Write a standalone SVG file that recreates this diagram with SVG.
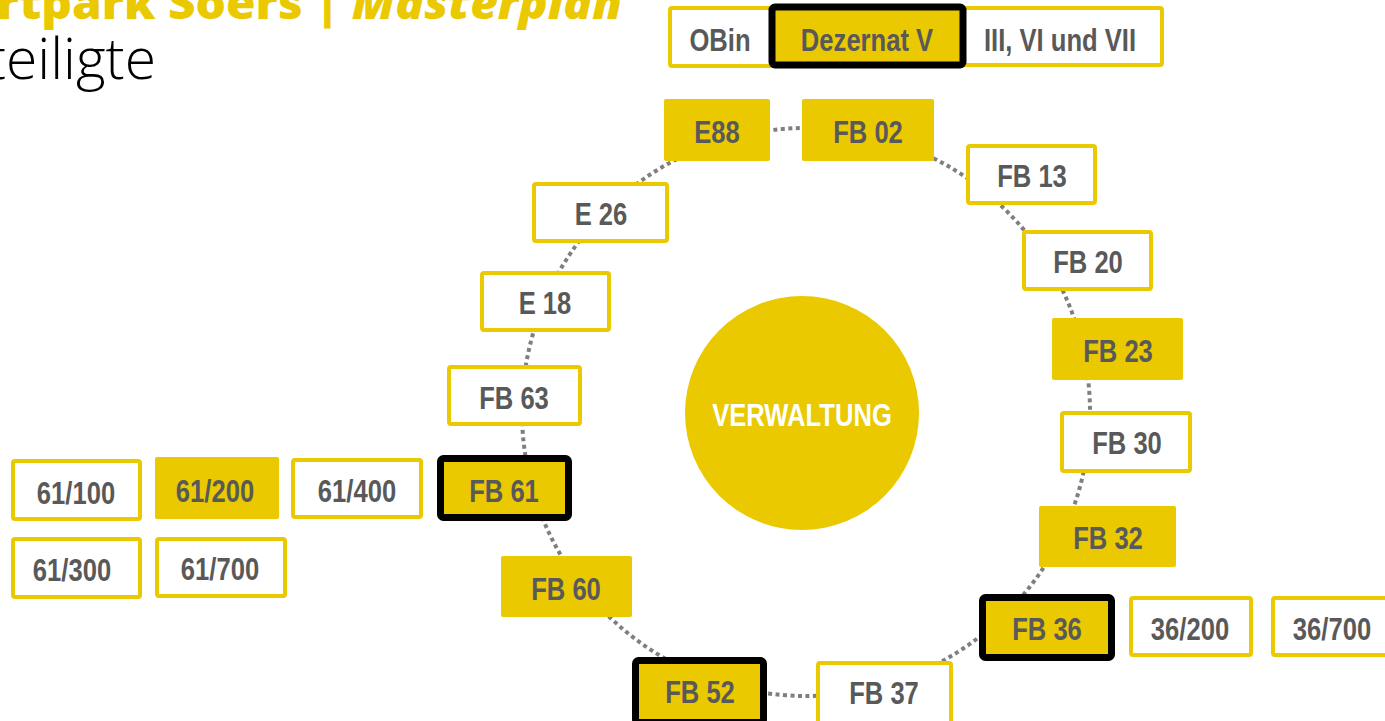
<svg xmlns="http://www.w3.org/2000/svg" width="1385" height="721" viewBox="0 0 1385 721">
<style>
.bg{fill:#ffffff}
.w{fill:#ffffff;stroke:#EAC900;stroke-width:4}
.y{fill:#EAC900}
.k{fill:#EAC900;stroke:#000000;stroke-width:7}
.t{font-family:"Liberation Sans",Arial,sans-serif;font-weight:bold;font-size:32px;fill:#595959;text-anchor:middle}
.ring{fill:none;stroke:#7F7F7F;stroke-width:4;stroke-dasharray:4 3.5}
</style>
<rect class="bg" x="0" y="0" width="1385" height="721"/>
<g id="title">
<text x="-92" y="19" font-family="'Open Sans','Liberation Sans',sans-serif" font-weight="800" font-size="44" fill="#EAC900" textLength="714" lengthAdjust="spacingAndGlyphs">Sportpark Soers | <tspan font-style="italic">Masterplan</tspan></text>
<text x="156" y="79" font-family="'Open Sans','Liberation Sans',sans-serif" font-weight="300" font-size="57" fill="#000000" text-anchor="end">Beteiligte</text>
</g>
<g id="connectors">
<circle class="ring" cx="806" cy="412" r="284"/>
</g>
<g id="n-obin"><rect class="w" x="670" y="8" width="110" height="58" rx="2"/><text class="t" transform="translate(720 51) scale(.8 1)">OBin</text></g>
<g id="n-iii"><rect class="w" x="955" y="8" width="207" height="57" rx="2"/><text class="t" transform="translate(1060 51) scale(.8 1)">III, VI und VII</text></g>
<g id="n-dez"><rect class="k" x="772" y="7" width="191" height="58" rx="3" stroke-width="6"/><text class="t" transform="translate(867 51) scale(.8 1)">Dezernat V</text></g>
<g id="n-e88"><rect class="y" x="664" y="99" width="106" height="62" rx="2"/><text class="t" transform="translate(717 143) scale(.8 1)">E88</text></g>
<g id="n-fb02"><rect class="y" x="802" y="99" width="132" height="62" rx="2"/><text class="t" transform="translate(868 143) scale(.8 1)">FB 02</text></g>
<g id="n-fb13"><rect class="w" x="968" y="146" width="127" height="57" rx="2"/><text class="t" transform="translate(1032 187) scale(.8 1)">FB 13</text></g>
<g id="n-fb20"><rect class="w" x="1024" y="232" width="127" height="57" rx="2"/><text class="t" transform="translate(1088 273) scale(.8 1)">FB 20</text></g>
<g id="n-fb23"><rect class="y" x="1052" y="318" width="131" height="62" rx="2"/><text class="t" transform="translate(1118 362) scale(.8 1)">FB 23</text></g>
<g id="n-fb30"><rect class="w" x="1062" y="413" width="128" height="58" rx="2"/><text class="t" transform="translate(1127 454) scale(.8 1)">FB 30</text></g>
<g id="n-fb32"><rect class="y" x="1039" y="506" width="137" height="61" rx="2"/><text class="t" transform="translate(1108 549) scale(.8 1)">FB 32</text></g>
<g id="n-fb36"><rect class="k" x="982.5" y="597.5" width="129" height="60" rx="3"/><text class="t" transform="translate(1047 640) scale(.8 1)">FB 36</text></g>
<g id="n-36-200"><rect class="w" x="1131" y="598" width="120" height="57" rx="2"/><text class="t" transform="translate(1190 640) scale(.8 1)">36/200</text></g>
<g id="n-36-700"><rect class="w" x="1273" y="598" width="120" height="57" rx="2"/><text class="t" transform="translate(1332 640) scale(.8 1)">36/700</text></g>
<g id="n-fb37"><rect class="w" x="818" y="663" width="133" height="60" rx="2"/><text class="t" transform="translate(884 704) scale(.8 1)">FB 37</text></g>
<g id="n-fb52"><rect class="k" x="635.5" y="660.5" width="128" height="62" rx="3"/><text class="t" transform="translate(700 703) scale(.8 1)">FB 52</text></g>
<g id="n-fb60"><rect class="y" x="501" y="556" width="131" height="61" rx="2"/><text class="t" transform="translate(566 600) scale(.8 1)">FB 60</text></g>
<g id="n-fb61"><rect class="k" x="440.5" y="458.5" width="128" height="59" rx="3"/><text class="t" transform="translate(504 502) scale(.8 1)">FB 61</text></g>
<g id="n-fb63"><rect class="w" x="449" y="367" width="131" height="57" rx="2"/><text class="t" transform="translate(514 409) scale(.8 1)">FB 63</text></g>
<g id="n-e18"><rect class="w" x="482" y="273" width="127" height="57" rx="2"/><text class="t" transform="translate(545 314) scale(.8 1)">E 18</text></g>
<g id="n-e26"><rect class="w" x="534" y="184" width="133" height="57" rx="2"/><text class="t" transform="translate(601 225) scale(.8 1)">E 26</text></g>
<g id="n-61-100"><rect class="w" x="13" y="461" width="127" height="58" rx="2"/><text class="t" transform="translate(76 504) scale(.8 1)">61/100</text></g>
<g id="n-61-200"><rect class="y" x="155" y="457" width="124" height="62" rx="2"/><text class="t" transform="translate(215 502) scale(.8 1)">61/200</text></g>
<g id="n-61-400"><rect class="w" x="293" y="460" width="128" height="57" rx="2"/><text class="t" transform="translate(357 502) scale(.8 1)">61/400</text></g>
<g id="n-61-300"><rect class="w" x="13" y="539" width="127" height="58" rx="2"/><text class="t" transform="translate(72 581) scale(.8 1)">61/300</text></g>
<g id="n-61-700"><rect class="w" x="157" y="539" width="128" height="57" rx="2"/><text class="t" transform="translate(220 580) scale(.8 1)">61/700</text></g>
<g id="n-verwaltung"><circle cx="802" cy="413" r="117" fill="#EAC900"/><text class="t" style="fill:#ffffff" transform="translate(802 426) scale(.8 1)">VERWALTUNG</text></g>
</svg>
